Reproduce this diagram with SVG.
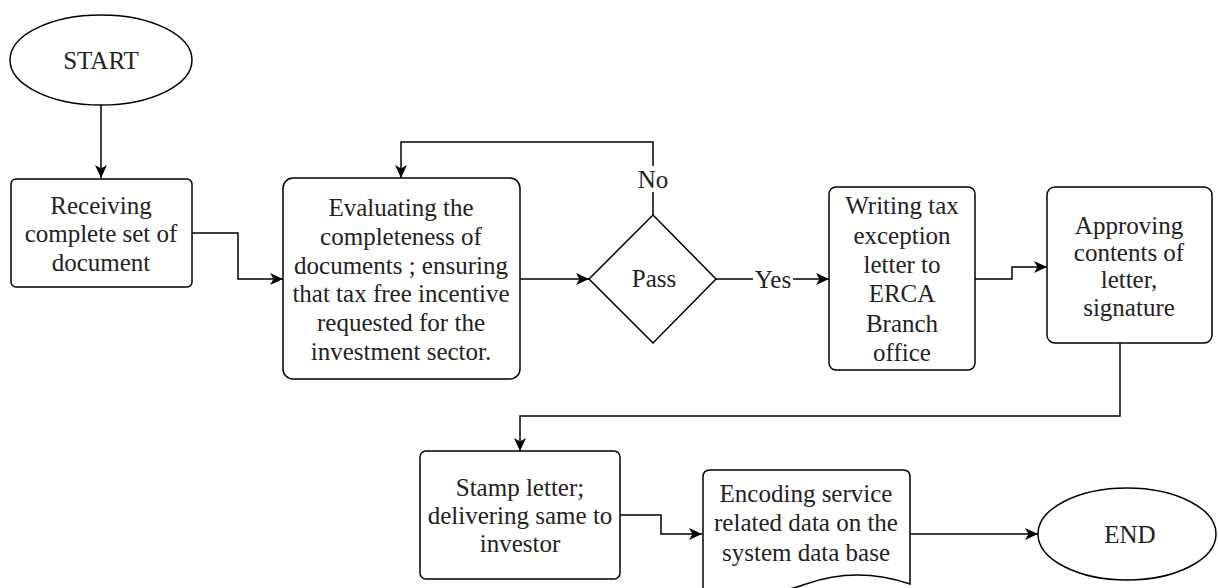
<svg xmlns="http://www.w3.org/2000/svg" width="1218" height="588" viewBox="0 0 1218 588">
<style>
.s{fill:#fff;stroke:#000;stroke-width:1.5}
.c{fill:none;stroke:#000;stroke-width:1.5}
.t{font-family:'Liberation Serif','Times New Roman','DejaVu Serif',serif;font-size:25px;fill:#222;text-anchor:middle}
</style>
<defs>
<marker id="a" viewBox="0 0 14 14" refX="13" refY="7" markerWidth="14" markerHeight="14" markerUnits="userSpaceOnUse" orient="auto">
<path d="M0,1 L13,7 L0,13 L3.5,7 Z" fill="#000"/>
</marker>
</defs>
<rect width="1218" height="588" fill="#fff"/>
<g id="connectors">
<path class="c" d="M101,105 V178" marker-end="url(#a)"/>
<path class="c" d="M192,233 H238 V279 H283" marker-end="url(#a)"/>
<path class="c" d="M520,279 H589" marker-end="url(#a)"/>
<path class="c" d="M653,215 V142 H401 V178" marker-end="url(#a)"/>
<path class="c" d="M716,279 H829" marker-end="url(#a)"/>
<path class="c" d="M975,279 H1012 V267 H1047" marker-end="url(#a)"/>
<path class="c" d="M1120,343 V416 H520 V451" marker-end="url(#a)"/>
<path class="c" d="M620,515 H661 V534 H702" marker-end="url(#a)"/>
<path class="c" d="M910,534 H1038" marker-end="url(#a)"/>
<rect x="637" y="166" width="32" height="26" fill="#fff"/>
<text class="t" x="653" y="188">No</text>
<rect x="753" y="266" width="40" height="26" fill="#fff"/>
<text class="t" x="773" y="288">Yes</text>
</g>
<g id="start" class="t">
<ellipse class="s" cx="101" cy="60" rx="91" ry="45"/>
<text x="101" y="69">START</text>
</g>
<g id="receiving" class="t">
<rect class="s" x="11" y="179" width="181" height="108" rx="5"/>
<text x="101" y="214">Receiving</text>
<text x="101" y="242">complete set of</text>
<text x="101" y="271">document</text>
</g>
<g id="evaluating" class="t">
<rect class="s" x="283" y="178" width="237" height="201" rx="10"/>
<text x="401" y="216">Evaluating the</text>
<text x="401" y="245">completeness of</text>
<text x="401" y="274">documents ; ensuring</text>
<text x="401" y="302">that tax free incentive</text>
<text x="401" y="331">requested for the</text>
<text x="401" y="360">investment sector.</text>
</g>
<g id="pass" class="t">
<path class="s" d="M653,215 L716,279 L653,343 L589,279 Z"/>
<text x="654" y="287">Pass</text>
</g>
<g id="writing" class="t">
<rect class="s" x="829" y="187" width="146" height="183" rx="7"/>
<text x="902" y="214">Writing tax</text>
<text x="902" y="244">exception</text>
<text x="902" y="273">letter to</text>
<text x="902" y="302">ERCA</text>
<text x="902" y="332">Branch</text>
<text x="902" y="361">office</text>
</g>
<g id="approving" class="t">
<rect class="s" x="1047" y="187" width="165" height="156" rx="8"/>
<text x="1129" y="234">Approving</text>
<text x="1129" y="261">contents of</text>
<text x="1129" y="288">letter,</text>
<text x="1129" y="316">signature</text>
</g>
<g id="stamp" class="t">
<rect class="s" x="420" y="451" width="200" height="128" rx="6"/>
<text x="520" y="496">Stamp letter;</text>
<text x="520" y="524">delivering same to</text>
<text x="520" y="552">investor</text>
</g>
<g id="encoding" class="t">
<path class="s" d="M703,592 L703,477 Q703,470 710,470 L903,470 Q910,470 910,477 L910,584 Q857,566 806,584 Q755,602 703,590 Z"/>
<text x="806" y="502">Encoding service</text>
<text x="806" y="531">related data on the</text>
<text x="806" y="561">system data base</text>
</g>
<g id="end" class="t">
<ellipse class="s" cx="1127" cy="534" rx="89" ry="46"/>
<text x="1130" y="543">END</text>
</g>
</svg>
